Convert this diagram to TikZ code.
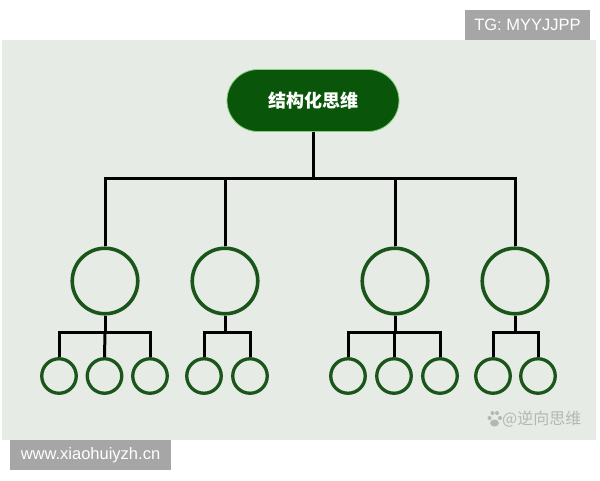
\documentclass[tikz,border=0pt]{standalone}
\usepackage{fontspec}
\setmainfont{Liberation Sans}
\newfontfamily\cjk{Noto Sans CJK SC}
\usetikzlibrary{positioning}
\definecolor{panelgrey}{HTML}{E6EBE6}
\definecolor{taggrey}{HTML}{A6A6A6}
\definecolor{pillgreen}{HTML}{09560A}
\definecolor{pillrim}{HTML}{86CF78}
\definecolor{ringgreen}{HTML}{1A561A}
\definecolor{markgrey}{HTML}{B4B8B4}
\tikzset{
  tagbox/.style={fill=taggrey, text=white, inner sep=0pt,
    font=\fontsize{16.5}{18}\selectfont},
  bigring/.style={circle, draw=ringgreen, line width=3.6pt, inner sep=0pt,
    minimum size=65.5pt},
  smallring/.style={circle, draw=ringgreen, line width=3.3pt, inner sep=0pt,
    minimum size=34.5pt},
  wire/.style={line width=3pt, black}
}

\begin{document}
\begin{tikzpicture}[x=1pt, y=-1pt]
  \useasboundingbox (0,0) rectangle (600,480);

  % background panel
  \fill[panelgrey] (2,40) rectangle (596,439.5);

  % corner tags
  \node[tagbox, minimum width=125pt, minimum height=30pt] (tg) at (527.5,25) {TG: MYYJJPP};
  \node[tagbox, minimum width=161pt, minimum height=30pt] (site) at (90.5,455) {www.xiaohuiyzh.cn};

  % root
  \node[fill=pillgreen, draw=pillrim, line width=0.8pt, rounded corners=31pt,
    minimum width=172pt, minimum height=62pt, text=white,
    font=\cjk\bfseries\fontsize{18}{20}\selectfont] (root) at (313,100.5) {结构化思维};

  % first level
  \node[bigring] (b1) at (105,281) {};
  \node[bigring] (b2) at (225,281) {};
  \node[bigring] (b3) at (395,281) {};
  \node[bigring] (b4) at (515,281) {};

  % second level
  \node[smallring] (c11) at (59,376) {};
  \node[smallring] (c12) at (104.5,376) {};
  \node[smallring] (c13) at (150,376) {};
  \node[smallring] (c21) at (204,376) {};
  \node[smallring] (c22) at (250,376) {};
  \node[smallring] (c31) at (348,376) {};
  \node[smallring] (c32) at (394,376) {};
  \node[smallring] (c33) at (440,376) {};
  \node[smallring] (c41) at (493,376) {};
  \node[smallring] (c42) at (538,376) {};

  % bars
  \coordinate (bar) at (313,178);
  \coordinate (s1) at (105,332.5);
  \coordinate (s2) at (225,332.5);
  \coordinate (s3) at (395,332.5);
  \coordinate (s4) at (515,332.5);

  \draw[wire] (root.south) -- (bar);
  \draw[wire] (bar) -| (b1.north);
  \draw[wire] (bar) -| (b2.north);
  \draw[wire] (bar) -| (b3.north);
  \draw[wire] (bar) -| (b4.north);

  \draw[wire] (b1.south) -- (s1);
  \draw[wire] (s1) -| (c11.north);
  \draw[wire] (s1) -- (c12.north);
  \draw[wire] (s1) -| (c13.north);

  \draw[wire] (b2.south) -- (s2);
  \draw[wire] (s2) -| (c21.north);
  \draw[wire] (s2) -| (c22.north);

  \draw[wire] (b3.south) -- (s3);
  \draw[wire] (s3) -| (c31.north);
  \draw[wire] (s3) -| (c32.north);
  \draw[wire] (s3) -| (c33.north);

  \draw[wire] (b4.south) -- (s4);
  \draw[wire] (s4) -| (c41.north);
  \draw[wire] (s4) -| (c42.north);

  % watermark
  \node[text=markgrey, inner sep=0pt, anchor=west,
    font=\cjk\fontsize{16}{18}\selectfont] (mark) at (502,419) {@逆向思维};
  \fill[markgrey] (494.5,423) ellipse (4.5pt and 3.5pt);
  \fill[markgrey] (489.5,418) circle (2pt);
  \fill[markgrey] (492.5,413) circle (2pt);
  \fill[markgrey] (497,413) circle (2pt);
  \fill[markgrey] (500,418) circle (2pt);
\end{tikzpicture}
\end{document}
